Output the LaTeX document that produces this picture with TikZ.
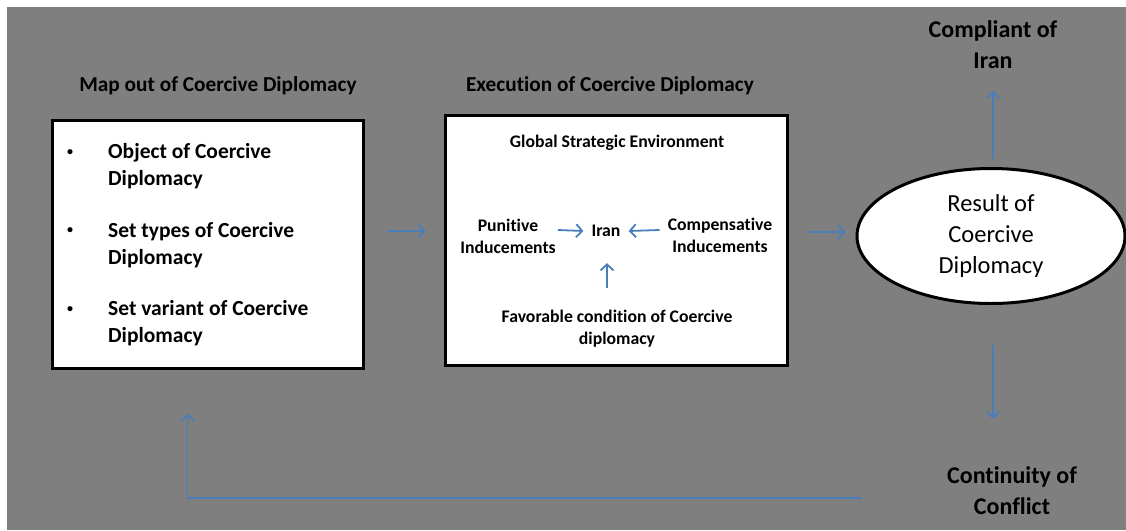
\documentclass[tikz,border=0pt]{standalone}
\usepackage{fontspec}
\setmainfont{Carlito}[Ligatures=NoCommon]
\usetikzlibrary{arrows.meta,calc,shapes.geometric}
\definecolor{bggray}{HTML}{7F7F7F}
\definecolor{arrblue}{HTML}{4A7EBB}
\tikzset{
  box/.style={draw=black,line width=3pt,fill=white,inner sep=0pt},
  ttl/.style={font=\bfseries\fontsize{21.3}{26}\selectfont,align=center},
  bul/.style={font=\bfseries\fontsize{21.5}{26.5}\selectfont,anchor=west,align=left,inner sep=0pt},
  dot/.style={font=\bfseries\fontsize{12}{14}\selectfont,inner sep=0pt},
  inner/.style={font=\bfseries\fontsize{17.7}{22}\selectfont,align=center,inner sep=2pt},
  big/.style={font=\bfseries\fontsize{24}{31}\selectfont,align=center},
  flow/.style={draw=arrblue,line width=1.8pt,-{Straight Barb[length=6pt,width=13pt,line width=1.8pt]}}
}
\begin{document}
\begin{tikzpicture}[x=1pt,y=-1pt]
\useasboundingbox (0,0) rectangle (1126,530);
\fill[white] (0,0) rectangle (1126,530);
\fill[bggray] (7,7) rectangle (1126,530);

% left block
\node[ttl] (title1) at (218,86) {Map out of Coercive Diplomacy};
\node[box,minimum width=311pt,minimum height=248pt] (box1) at (207.5,244) {};
\node[dot] (d1) at (70,153) {•};
\node[dot] (d2) at (70,231) {•};
\node[dot] (d3) at (70,310) {•};
\node[bul] (t1) at (108,166) {Object of Coercive\\Diplomacy};
\node[bul] (t2) at (108,245) {Set types of Coercive\\Diplomacy};
\node[bul] (t3) at (108,323) {Set variant of Coercive\\Diplomacy};

% middle block
\node[ttl] (title2) at (610,86) {Execution of Coercive Diplomacy};
\node[box,minimum width=342pt,minimum height=250pt] (box2) at (616,240) {};
\node[inner] (glob) at (617,143) {Global Strategic Environment};
\node[inner] (pun) at (508,236) {Punitive\\Inducements};
\node[inner] (iran) at (606,231) {Iran};
\node[inner] (comp) at (720,235) {Compensative\\Inducements};
\node[inner] (fav) at (617,329) {Favorable condition of Coercive\\diplomacy};

\draw[flow] ($(pun.east)+(0,-6)$) -- ($(iran.west)+(-6,0)$);
\draw[flow] ($(comp.west)+(-6,-5)$) -- ($(iran.east)+(6,0)$);
\draw[flow] ($(fav.north)+(-10,-20)$) -- ($(fav.north)+(-10,-45)$);

% result
\node[ellipse,draw=black,line width=3pt,fill=white,minimum width=268pt,minimum height=135pt,inner sep=0pt,
      font=\fontsize{24.5}{31}\selectfont,align=center] (res) at (991,236) {Result of\\Coercive\\Diplomacy};
\node[big] (compl) at (993,45) {Compliant of\\Iran};
\node[big] (cont) at (1012,491) {Continuity of\\Conflict};

% connectors
\draw[flow] ($(box1.east)+(22,-13)$) -- ($(box2.west)+(-18,-9)$);
\draw[flow] ($(box2.east)+(19,-8)$) -- ($(res.west)+(-10,-4)$);
\draw[flow] ($(res.north)+(2,-8)$) -- ($(res.north)+(2,-76)$);
\draw[flow] ($(res.south)+(2,40)$) -- ($(res.south)+(2,114)$);
\coordinate (fbstart) at (862,498);
\draw[flow] (fbstart) -| ($(box1.south)+(-20,44)$);
\end{tikzpicture}
\end{document}
